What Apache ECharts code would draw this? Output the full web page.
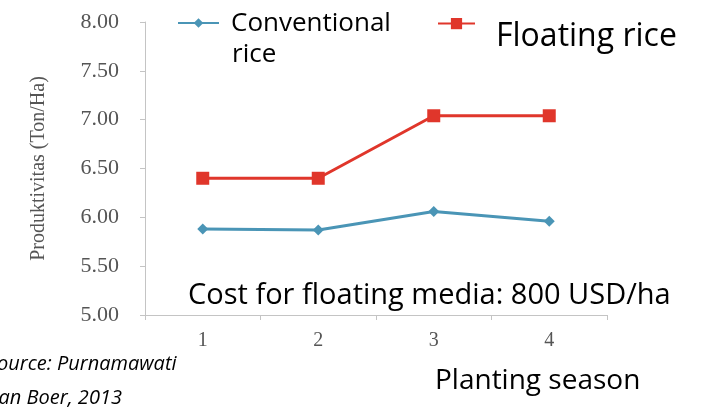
<!DOCTYPE html>
<html><head><meta charset="utf-8">
<script src="https://cdn.jsdelivr.net/npm/echarts@6/dist/echarts.min.js"></script>
<style>html,body{margin:0;padding:0;background:#fff}#c{width:708px;height:408px}</style>
</head><body><div id="c"></div>
<script>
const categories = ['1', '2', '3', '4'];
const conventional = [5.88, 5.87, 6.06, 5.96];
const floating = [6.40, 6.40, 7.04, 7.04];
const yTicks = [5.00, 5.50, 6.00, 6.50, 7.00, 7.50, 8.00];

const chart = echarts.init(document.getElementById('c'));
const sans = 'Open Sans';
const serif = 'Liberation Serif';
chart.setOption({
  animation: false,
  backgroundColor: '#fff',
  grid: { left: 145, right: 101, top: 22, bottom: 93 },
  legend: [
    { left: 172, top: 6, itemWidth: 41, itemHeight: 12,
      data: [{ name: 'Conventional rice' }],
      formatter: () => '{a|Conventional}',
      textStyle: { rich: { a: { fontFamily: sans, fontSize: 26, color: '#000', padding: [2, 0, 0, 7] } } } },
    { left: 432, top: 13, itemWidth: 37, itemHeight: 14,
      data: [{ name: 'Floating rice' }],
      formatter: n => '{a|' + n + '}',
      textStyle: { rich: { a: { fontFamily: sans, fontSize: 32, color: '#000', padding: [26, 0, 0, 16] } } } }
  ],
  xAxis: {
    type: 'category', data: categories, boundaryGap: true,
    axisLine: { lineStyle: { color: '#c4c4c4' } },
    axisTick: { show: true, length: 5, lineStyle: { color: '#c4c4c4' } },
    axisLabel: { fontFamily: serif, fontSize: 20, color: '#555', margin: 16 }
  },
  yAxis: {
    type: 'value', min: yTicks[0], max: yTicks[yTicks.length - 1], interval: 0.5,
    name: 'Produktivitas (Ton/Ha)', nameLocation: 'middle', nameGap: 96, nameRotate: 90,
    nameTextStyle: { fontFamily: serif, fontSize: 20, color: '#555' },
    axisLine: { show: true, lineStyle: { color: '#c4c4c4' } },
    axisTick: { show: true, length: 5, lineStyle: { color: '#c4c4c4' } },
    splitLine: { show: false },
    axisLabel: { fontFamily: serif, fontSize: 22, color: '#555', margin: 26,
      formatter: v => v.toFixed(2) }
  },
  series: [
    { name: 'Conventional rice', type: 'line', data: conventional,
      symbol: 'diamond', symbolSize: 11,
      lineStyle: { color: '#4a95b6', width: 3 }, itemStyle: { color: '#4a95b6' } },
    { name: 'Floating rice', type: 'line', data: floating,
      symbol: 'rect', symbolSize: 13,
      lineStyle: { color: '#e0362b', width: 3 }, itemStyle: { color: '#e0362b' } }
  ],
  graphic: [
    { type: 'text', left: 232, top: 42, style: { text: 'rice', font: '26px "Open Sans"', fill: '#000' } },
    { type: 'text', left: 188, top: 281, style: { text: 'Cost for floating media: 800 USD/ha',
        font: '29px "Open Sans"', fill: '#000' } },
    { type: 'text', left: 435, top: 367, style: { text: 'Planting season',
        font: '28px "Open Sans"', fill: '#000' } },
    { type: 'text', left: -13, top: 347, style: { text: 'Source: Purnamawati\ndan Boer, 2013',
        font: 'italic 20px "Open Sans"', fill: '#000', lineHeight: 34 } }
  ]
});
</script></body></html>
